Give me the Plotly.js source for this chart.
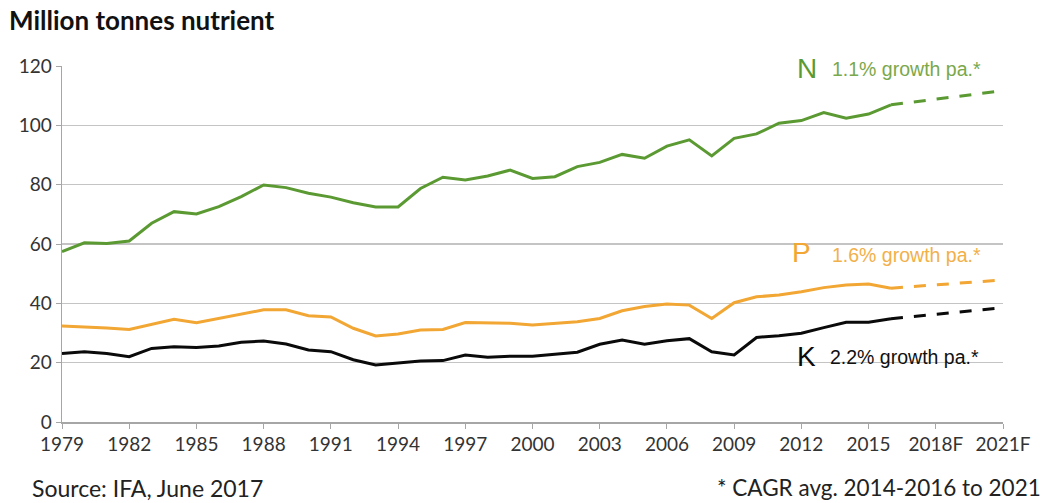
<!DOCTYPE html>
<html>
<head>
<meta charset="utf-8">
<script src="https://cdn.plot.ly/plotly-3.0.1.min.js"></script>
<style>html,body{margin:0;padding:0;background:#fff;}#chart{width:1041px;height:503px;}</style>
</head>
<body>
<div id="chart"></div>
<script>
var years = [1979,1980,1981,1982,1983,1984,1985,1986,1987,1988,1989,1990,1991,1992,1993,1994,1995,1996,1997,1998,1999,2000,2001,2002,2003,2004,2005,2006,2007,2008,2009,2010,2011,2012,2013,2014,2015,2016];
var nitrogen = [57.4,60.4,60.2,61.0,67.0,70.9,70.1,72.6,76.0,79.9,79.0,77.1,75.8,73.9,72.5,72.5,78.7,82.5,81.6,82.9,84.9,82.1,82.7,86.1,87.5,90.2,88.9,93.0,95.1,89.7,95.6,97.1,100.7,101.6,104.3,102.4,103.8,106.9];
var phosphate = [32.4,32.1,31.7,31.2,33.0,34.6,33.5,34.9,36.4,37.8,37.8,35.8,35.4,31.6,29.0,29.7,31.0,31.2,33.5,33.3,33.3,32.7,33.3,33.8,34.9,37.5,38.9,39.8,39.4,34.9,40.2,42.2,42.8,43.9,45.3,46.2,46.5,45.1];
var potash = [23.1,23.7,23.1,22.0,24.8,25.4,25.1,25.6,26.9,27.3,26.3,24.3,23.7,21.0,19.2,20.0,20.6,20.7,22.6,21.8,22.2,22.2,22.9,23.5,26.2,27.6,26.2,27.4,28.1,23.7,22.6,28.5,29.1,29.9,31.8,33.6,33.6,34.8];
var forecastYears = [2016, 2021];
var nitrogenF = [106.9, 111.7];
var phosphateF = [45.1, 47.9];
var potashF = [34.8, 38.5];
var tickYears = [1979,1982,1985,1988,1991,1994,1997,2000,2003,2006,2009,2012,2015,2018,2021];
var tickLabels = ['1979','1982','1985','1988','1991','1994','1997','2000','2003','2006','2009','2012','2015','2018F','2021F'];

var GREEN = '#5b9a32', ORANGE = '#f2a633', BLACK = '#0a0a0a';
function solid(y, c){ return {x: years, y: y, type:'scatter', mode:'lines', line:{color:c, width:3}, hoverinfo:'skip'}; }
function dashed(y, c){ return {x: forecastYears, y: y, type:'scatter', mode:'lines', line:{color:c, width:3, dash:'12px,11px'}, hoverinfo:'skip'}; }
var data = [solid(nitrogen, GREEN), solid(phosphate, ORANGE), solid(potash, BLACK),
            dashed(nitrogenF, GREEN), dashed(phosphateF, ORANGE), dashed(potashF, BLACK)];

var labFam = 'Liberation Sans, Arial, sans-serif';
function ann(x, y, t, size, color){ return {x:x, y:y, xref:'x', yref:'y', text:t, showarrow:false, xanchor:'left', yanchor:'middle', font:{family:labFam, size:size, color:color}}; }

var layout = {
  width:1041, height:503,
  margin:{l:62, r:38, t:66, b:81},
  paper_bgcolor:'#fff', plot_bgcolor:'#fff',
  showlegend:false,
  font:{family:'Lato, sans-serif', color:'#333'},
  xaxis:{range:[1979,2021], tickvals:tickYears, ticktext:tickLabels, showgrid:false, zeroline:false,
         showline:true, linecolor:'#a6a6a6', linewidth:1.5, ticks:'outside', ticklen:5, tickcolor:'#a6a6a6',
         tickfont:{family:'Lato, sans-serif', size:19, color:'#333'}, fixedrange:true},
  yaxis:{range:[0,120], tickvals:[0,20,40,60,80,100,120], showgrid:true, gridcolor:'#c4c4c4', gridwidth:1.5,
         zeroline:false, showline:true, linecolor:'#a6a6a6', linewidth:1.5, ticks:'outside', ticklen:5, tickcolor:'#a6a6a6',
         tickfont:{family:'Lato, sans-serif', size:19, color:'#333'}, fixedrange:true},
  annotations:[
    {xref:'paper', yref:'paper', x:-0.058, y:1.128, xanchor:'left', yanchor:'middle', showarrow:false,
     text:'<b>Million tonnes nutrient</b>', font:{family:'Lato, sans-serif', size:26, color:'#111'}},
    ann(2011.7, 119.2, 'N', 28, GREEN),
    ann(2013.3, 119.0, '1.1% growth pa.*', 19.5, '#7aa84c'),
    ann(2011.5, 57.0, 'P', 28, ORANGE),
    ann(2013.3, 56.3, '1.6% growth pa.*', 19.5, '#f2b04a'),
    ann(2011.7, 22.0, 'K', 28, BLACK),
    ann(2013.2, 21.9, '2.2% growth pa.*', 19.5, '#111'),
    {xref:'paper', yref:'paper', x:-0.034, y:-0.185, xanchor:'left', yanchor:'middle', showarrow:false,
     text:'Source: IFA, June 2017', font:{family:'Lato, sans-serif', size:23, color:'#222'}},
    {xref:'paper', yref:'paper', x:0.694, y:-0.185, xanchor:'left', yanchor:'middle', showarrow:false,
     text:'* CAGR avg. 2014-2016 to 2021', font:{family:'Lato, sans-serif', size:22.5, color:'#222'}}
  ]
};
Plotly.newPlot('chart', data, layout, {displayModeBar:false, staticPlot:true});
</script>
</body>
</html>
